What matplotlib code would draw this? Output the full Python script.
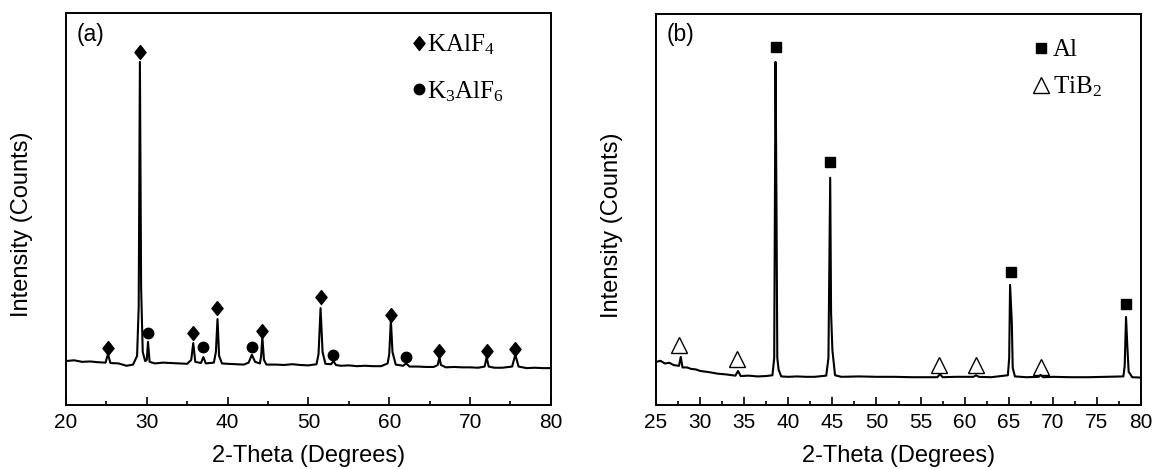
import matplotlib
matplotlib.use("Agg")
import matplotlib.pyplot as plt
from matplotlib.lines import Line2D
from matplotlib.ticker import MultipleLocator

plt.rcParams["font.family"] = ["Liberation Sans", "DejaVu Sans"]
plt.rcParams["mathtext.fontset"] = "custom"
plt.rcParams["mathtext.rm"] = "Liberation Serif"
plt.rcParams["mathtext.it"] = "Liberation Serif:italic"

# ---- panel (a): flux residue ----
two_theta_a = [
    20.0, 21.0, 22.0, 23.0, 24.0, 24.9, 25.2, 25.5, 26.5, 27.5, 28.3, 28.8, 29.0, 29.15,
    29.3, 29.5, 29.8, 30.0, 30.15, 30.35, 31.0, 32.0, 33.0, 34.0, 35.0, 35.5, 35.75, 36.0,
    36.7, 37.0, 37.3, 38.3, 38.55, 38.75, 38.95, 39.3, 40.0, 41.0, 42.0, 42.6, 43.0, 43.4,
    44.0, 44.15, 44.3, 44.5, 44.8, 46.0, 47.0, 48.0, 49.0, 50.0, 51.0, 51.25, 51.5, 51.75,
    52.1, 52.8, 53.1, 53.4, 54.0, 55.0, 56.0, 57.0, 58.0, 59.0, 59.8, 60.0, 60.2, 60.4,
    60.8, 61.7, 62.1, 62.5, 63.5, 64.5, 65.5, 66.0, 66.2, 66.4, 67.0, 68.0, 69.0, 70.0,
    71.0, 71.8, 72.05, 72.3, 73.0, 74.0, 75.2, 75.6, 76.0, 77.0, 78.0, 79.0, 80.0,
]
counts_a = [
    11.2, 11.4, 11.0, 11.1, 10.9, 10.8, 13.0, 10.7, 10.6, 10.0, 10.3, 12.5, 25.0, 87.5,
    30.0, 13.5, 11.2, 11.5, 16.1, 11.0, 10.6, 10.8, 10.7, 10.6, 10.5, 11.5, 15.8, 11.0,
    10.7, 12.2, 10.6, 10.8, 13.5, 21.9, 12.5, 10.6, 10.5, 10.4, 10.3, 10.8, 12.8, 11.0,
    10.6, 12.5, 17.3, 11.5, 10.3, 10.3, 10.2, 10.4, 10.2, 10.1, 10.4, 13.0, 24.7, 13.5,
    10.5, 10.4, 11.2, 10.2, 10.0, 10.1, 9.9, 10.0, 9.9, 9.9, 10.6, 13.0, 21.7, 13.5,
    10.3, 10.0, 10.6, 9.8, 9.8, 9.7, 9.7, 10.2, 12.2, 10.2, 9.6, 9.7, 9.6, 9.6,
    9.5, 9.8, 12.2, 9.8, 9.5, 9.5, 9.8, 12.8, 9.8, 9.4, 9.5, 9.4, 9.4,
]
kalf4_x = [25.2, 29.15, 35.75, 38.75, 44.3, 51.55, 60.2, 66.2, 72.05, 75.6]
kalf4_y = [14.5, 90.1, 18.4, 24.7, 18.9, 27.6, 23.0, 13.8, 13.8, 14.3]
k3alf6_x = [30.2, 37.0, 43.05, 53.07, 62.1]
k3alf6_y = [18.4, 14.8, 14.8, 12.8, 12.2]

# ---- panel (b): master alloy ----
two_theta_b = [
    25.0, 25.5, 26.0, 26.5, 27.0, 27.6, 27.8, 28.0, 28.5, 29.0, 29.5, 30.0, 31.0, 32.0,
    33.0, 34.0, 34.3, 34.6, 35.5, 36.5, 37.5, 38.2, 38.4, 38.55, 38.65, 38.75, 38.9, 39.2,
    40.0, 41.0, 42.0, 43.0, 44.3, 44.55, 44.75, 44.85, 45.0, 45.3, 46.0, 48.0, 50.0, 52.0,
    54.0, 56.9, 57.2, 57.5, 59.0, 61.0, 61.3, 61.6, 63.0, 64.9, 65.05, 65.15, 65.35, 65.45,
    65.7, 67.0, 68.4, 68.6, 68.9, 70.0, 72.0, 74.0, 76.0, 78.0, 78.15, 78.3, 78.45, 78.6,
    79.0, 80.0,
]
counts_b = [
    11.0, 11.3, 10.6, 10.8, 10.2, 10.0, 12.3, 9.6, 9.6, 9.2, 9.1, 8.7, 8.4, 8.0,
    7.8, 7.5, 8.7, 7.4, 7.5, 7.3, 7.4, 7.6, 12.0, 87.7, 54.0, 12.0, 9.0, 7.3,
    7.2, 7.3, 7.2, 7.2, 7.5, 12.0, 58.1, 23.5, 14.0, 7.6, 7.2, 7.3, 7.2, 7.2,
    7.1, 7.1, 7.9, 7.1, 7.2, 7.2, 7.6, 7.2, 7.1, 7.6, 12.0, 30.7, 21.0, 9.5,
    7.3, 7.1, 7.2, 7.7, 7.1, 7.2, 7.1, 7.1, 7.2, 7.3, 10.0, 22.5, 15.0, 8.5,
    7.1, 7.0,
]
al_x = [38.55, 44.75, 65.2, 78.3]
al_y = [91.6, 62.1, 34.0, 25.8]
tib2_x = [27.65, 34.15, 57.1, 61.25, 68.66]
tib2_y = [15.3, 11.8, 10.2, 10.2, 9.7]

diamond = [(0, 1), (0.8, 0), (0, -1), (-0.8, 0), (0, 1)]

fig = plt.figure(figsize=(11.53, 4.69), dpi=100)
ax_a = fig.add_axes([0.0572, 0.1365, 0.4206, 0.836])
ax_b = fig.add_axes([0.569, 0.1365, 0.4206, 0.834])

ax_a.plot(two_theta_a, counts_a, color="black", lw=1.5)
ax_a.plot(kalf4_x, kalf4_y, ls="none", marker=diamond, ms=10, color="black")
ax_a.plot(k3alf6_x, k3alf6_y, ls="none", marker="o", ms=7.5, color="black")
ax_a.set_xlim(20, 80)
ax_a.xaxis.set_major_locator(MultipleLocator(10))
ax_a.xaxis.set_minor_locator(MultipleLocator(5))

ax_b.plot(two_theta_b, counts_b, color="black", lw=1.5)
ax_b.plot(al_x, al_y, ls="none", marker="s", ms=7.5, color="black")
ax_b.plot(tib2_x, tib2_y, ls="none", marker="^", ms=11, mfc="none", mec="black", mew=1.0)
ax_b.set_xlim(25, 80)
ax_b.xaxis.set_major_locator(MultipleLocator(5))
ax_b.xaxis.set_minor_locator(MultipleLocator(2.5))

legend_font = {"family": "Liberation Serif", "size": 18}
handles_a = [
    Line2D([], [], ls="none", marker=diamond, ms=10, color="black"),
    Line2D([], [], ls="none", marker="o", ms=7.5, color="black"),
]
ax_a.legend(handles_a, ["KAlF$_4$", "K$_3$AlF$_6$"], loc="upper left",
            bbox_to_anchor=(0.713, 0.95), frameon=False, prop=legend_font,
            handlelength=0.55, handletextpad=0.05, labelspacing=0.88,
            borderpad=0, borderaxespad=0)
handles_b = [
    Line2D([], [], ls="none", marker="s", ms=7.5, color="black"),
    Line2D([], [], ls="none", marker="^", ms=11, mfc="none", mec="black", mew=1.0),
]
ax_b.legend(handles_b, ["Al", "TiB$_2$"], loc="upper left",
            bbox_to_anchor=(0.779, 0.936), frameon=False, prop=legend_font,
            handlelength=0.55, handletextpad=0.2, labelspacing=0.52,
            borderpad=0, borderaxespad=0)

for ax, tag in [(ax_a, "(a)"), (ax_b, "(b)")]:
    ax.set_ylim(0, 100)
    ax.set_yticks([])
    ax.tick_params(axis="x", which="both", direction="in", top=False,
                   labelsize=15, pad=6, width=1.2)
    ax.tick_params(axis="x", which="major", length=6)
    ax.tick_params(axis="x", which="minor", length=3)
    for sp in ax.spines.values():
        sp.set_linewidth(1.4)
    ax.set_xlabel("2-Theta (Degrees)", fontsize=17, labelpad=9)
    ax.set_ylabel("Intensity (Counts)", fontsize=17)
    ax.yaxis.set_label_coords(-0.068, 0.46)
    ax.text(0.021, 0.946, tag, transform=ax.transAxes, fontsize=16.5,
            ha="left", va="center")

fig.savefig("out.png", dpi=100)
